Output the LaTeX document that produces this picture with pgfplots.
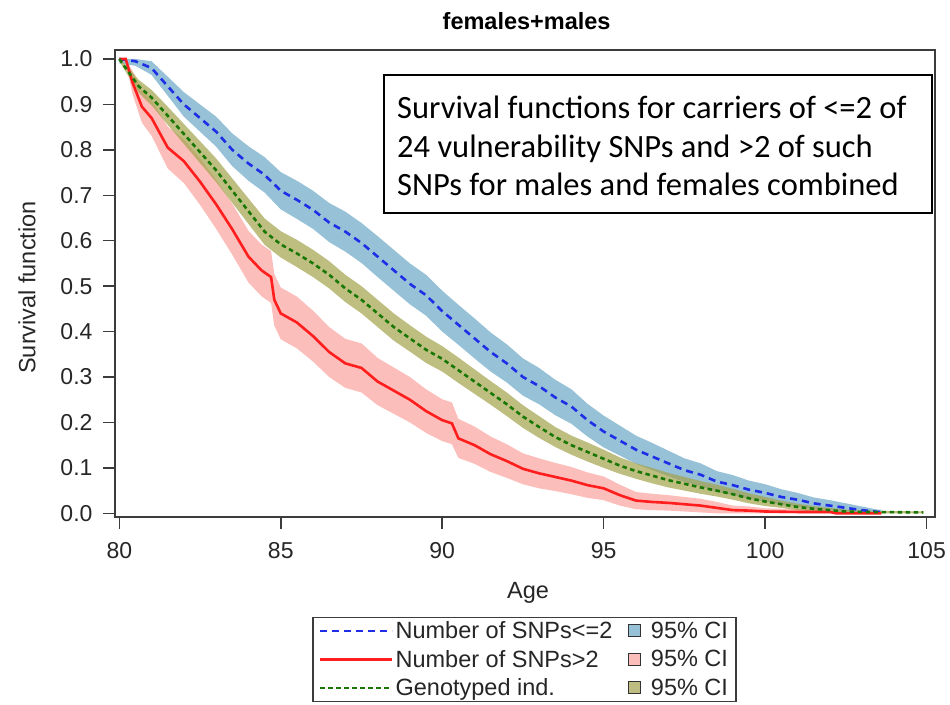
\documentclass[border=0pt]{standalone}
\usepackage{fontspec}
\setmainfont{Liberation Sans}
\newfontfamily\calibri{Carlito}
\usepackage{pgfplots}
\usepgfplotslibrary{fillbetween}
\pgfplotsset{compat=1.18}
\usepackage{pgfplotstable}

\definecolor{lblue}{RGB}{30,45,230}
\definecolor{lred}{RGB}{255,30,30}
\definecolor{lgreen}{RGB}{25,120,5}
\definecolor{bblue}{RGB}{106,166,196}
\definecolor{bred}{RGB}{251,162,157}
\definecolor{bgreen}{RGB}{162,162,76}
\definecolor{sqblue}{RGB}{151,193,214}
\definecolor{sqred}{RGB}{252,190,186}
\definecolor{sqgreen}{RGB}{190,190,130}
\definecolor{axgray}{RGB}{60,60,60}

\pgfplotsset{
  linelegend/.style={legend image code/.code={\draw[##1] (0pt,0pt) -- (72pt,0pt);}},
  sqlegend/.style={legend image code/.code={\draw[fill=#1, draw=black!80, line width=1pt] (0pt,-6pt) rectangle (12pt,6pt);\path[draw=none] (0pt,0pt) -- (20pt,0pt);}},
}

% x  s  lo  hi
\pgfplotstableread{
x s lo hi
80.0 1.000 0.990 1.000
80.5 0.995 0.985 1.000
81.0 0.980 0.965 0.995
81.5 0.940 0.919 0.961
82.0 0.900 0.873 0.927
82.5 0.870 0.840 0.900
83.0 0.840 0.807 0.873
83.5 0.800 0.764 0.836
84.0 0.770 0.732 0.808
84.5 0.745 0.706 0.784
85.0 0.710 0.669 0.751
85.5 0.690 0.648 0.732
86.0 0.668 0.626 0.710
86.5 0.640 0.597 0.683
87.0 0.620 0.576 0.664
87.5 0.595 0.551 0.639
88.0 0.565 0.520 0.610
88.5 0.535 0.490 0.580
89.0 0.505 0.460 0.550
89.5 0.480 0.435 0.525
90.0 0.445 0.400 0.490
90.5 0.415 0.371 0.459
91.0 0.385 0.341 0.429
91.5 0.355 0.312 0.398
92.0 0.330 0.288 0.372
92.5 0.300 0.259 0.341
93.0 0.280 0.240 0.320
93.5 0.255 0.216 0.294
94.0 0.235 0.197 0.273
94.5 0.205 0.169 0.241
95.0 0.180 0.145 0.215
95.5 0.160 0.127 0.193
96.0 0.140 0.109 0.171
96.5 0.125 0.095 0.155
97.0 0.110 0.082 0.138
97.5 0.095 0.069 0.121
98.0 0.085 0.060 0.110
98.5 0.070 0.047 0.093
99.0 0.062 0.040 0.084
99.5 0.052 0.032 0.072
100.0 0.045 0.026 0.064
100.5 0.036 0.019 0.053
101.0 0.030 0.015 0.045
101.5 0.022 0.009 0.035
102.0 0.017 0.005 0.029
102.5 0.012 0.002 0.022
103.0 0.007 0.000 0.015
103.5 0.003 0.000 0.008
103.6 0.003 0.000 0.008
}\lowtab

\pgfplotstableread{
x s lo hi
80.0 1.000 0.995 1.000
80.2 1.000 0.995 1.000
80.4 0.950 0.925 0.975
80.7 0.895 0.860 0.930
81.0 0.870 0.831 0.909
81.5 0.805 0.759 0.851
82.0 0.775 0.727 0.823
82.5 0.730 0.679 0.781
83.0 0.680 0.626 0.734
83.5 0.625 0.569 0.681
84.0 0.565 0.508 0.622
84.4 0.535 0.478 0.592
84.7 0.520 0.463 0.577
84.8 0.470 0.413 0.527
85.0 0.440 0.383 0.497
85.5 0.420 0.363 0.477
86.0 0.390 0.334 0.446
86.5 0.355 0.300 0.410
87.0 0.330 0.276 0.384
87.5 0.320 0.266 0.374
88.0 0.290 0.238 0.342
88.5 0.270 0.219 0.321
89.0 0.250 0.200 0.300
89.5 0.225 0.177 0.273
90.0 0.205 0.159 0.251
90.3 0.198 0.152 0.244
90.5 0.165 0.122 0.208
91.0 0.150 0.109 0.191
91.5 0.130 0.091 0.169
92.0 0.115 0.078 0.152
92.5 0.098 0.064 0.132
93.0 0.088 0.055 0.121
93.5 0.080 0.049 0.111
94.0 0.072 0.042 0.102
94.5 0.062 0.034 0.090
95.0 0.055 0.029 0.081
95.5 0.040 0.017 0.063
96.0 0.028 0.009 0.047
96.5 0.025 0.007 0.043
97.0 0.023 0.006 0.040
97.5 0.020 0.004 0.036
98.0 0.017 0.002 0.032
98.5 0.012 0.000 0.025
99.0 0.007 0.000 0.017
99.5 0.006 0.000 0.015
100.0 0.004 0.000 0.011
101.0 0.003 0.000 0.009
102.0 0.003 0.000 0.009
102.2 0.000 0.000 0.000
103.6 0.000 0.000 0.000
}\hightab

\pgfplotstableread{
x s lo hi
80.0 1.000 0.995 1.000
80.3 0.970 0.960 0.980
80.6 0.940 0.926 0.954
81.0 0.915 0.898 0.932
81.5 0.875 0.855 0.895
82.0 0.835 0.813 0.857
82.5 0.795 0.771 0.819
83.0 0.755 0.729 0.781
83.5 0.710 0.683 0.737
84.0 0.665 0.637 0.693
84.5 0.620 0.591 0.649
85.0 0.592 0.563 0.621
85.5 0.572 0.542 0.602
86.0 0.550 0.520 0.580
86.5 0.525 0.495 0.555
87.0 0.495 0.465 0.525
87.5 0.470 0.440 0.500
88.0 0.440 0.410 0.470
88.5 0.410 0.380 0.440
89.0 0.385 0.356 0.414
89.5 0.360 0.331 0.389
90.0 0.340 0.312 0.368
90.5 0.315 0.287 0.343
91.0 0.290 0.263 0.317
91.5 0.265 0.239 0.291
92.0 0.240 0.214 0.266
92.5 0.213 0.188 0.238
93.0 0.190 0.166 0.214
93.5 0.168 0.146 0.190
94.0 0.150 0.129 0.171
94.5 0.135 0.114 0.156
95.0 0.120 0.100 0.140
95.5 0.105 0.087 0.123
96.0 0.093 0.076 0.110
96.5 0.083 0.066 0.100
97.0 0.073 0.057 0.089
97.5 0.065 0.050 0.080
98.0 0.057 0.043 0.071
98.5 0.050 0.037 0.063
99.0 0.042 0.030 0.054
99.5 0.033 0.022 0.044
100.0 0.026 0.016 0.036
100.5 0.020 0.012 0.028
101.0 0.014 0.007 0.021
101.5 0.010 0.004 0.016
102.0 0.007 0.002 0.012
102.5 0.004 0.000 0.008
103.0 0.003 0.000 0.006
104.9 0.002 0.000 0.004
}\alltab

\begin{document}
\begin{tikzpicture}
\begin{axis}[
  scale only axis,
  width=820pt, height=467pt,
  xmin=79.867, xmax=105.26,
  ymin=-0.0081, ymax=1.0198,
  xtick={80,85,90,95,100,105},
  ytick={0,0.1,0.2,0.3,0.4,0.5,0.6,0.7,0.8,0.9,1.0},
  yticklabel style={/pgf/number format/fixed,/pgf/number format/precision=1,/pgf/number format/fixed zerofill, xshift=-7pt},
  xticklabel style={yshift=-10pt},
  /pgf/number format/assume math mode=true,
  tick label style={font=\fontsize{23}{27}\selectfont, text=black!85},
  tick align=outside, tick pos=left,
  major tick length=12pt,
  major tick style={draw=axgray, line width=1.5pt},
  axis line style={draw=axgray, line width=1.5pt},
  xlabel={Age}, ylabel={Survival function},
  label style={font=\fontsize{23.5}{28}\selectfont, text=black!85},
  xlabel style={at={(axis description cs:0.5037,-0.1627)}, anchor=center},
  ylabel style={at={(axis description cs:-0.1073,0.4914)}, anchor=center},
  title={females+males},
  title style={font=\fontsize{23.5}{28}\selectfont\bfseries, at={(axis description cs:0.502,1.062)}, anchor=center, yshift=-6pt},
  legend columns=2,
  legend cell align=left,
  legend style={at={(axis description cs:0.4994,-0.2141)}, anchor=north,
    draw=axgray, line width=1.2pt, inner xsep=6pt,
    row sep=6pt,
    font=\fontsize{23.5}{27}\selectfont, text=black!85,
    /tikz/every even column/.append style={column sep=14pt}},
]
% CI bands
\addplot[name path=bh, draw=none, forget plot] table[x=x,y=hi]{\lowtab};
\addplot[name path=bl, draw=none, forget plot] table[x=x,y=lo]{\lowtab};
\addplot[fill=bblue, fill opacity=0.7, draw=none, forget plot] fill between[of=bh and bl];
\addplot[name path=rh, draw=none, forget plot] table[x=x,y=hi]{\hightab};
\addplot[name path=rl, draw=none, forget plot] table[x=x,y=lo]{\hightab};
\addplot[fill=bred, fill opacity=0.7, draw=none, forget plot] fill between[of=rh and rl];
\addplot[name path=gh, draw=none, forget plot] table[x=x,y=hi]{\alltab};
\addplot[name path=gl, draw=none, forget plot] table[x=x,y=lo]{\alltab};
\addplot[fill=bgreen, fill opacity=0.7, draw=none, forget plot] fill between[of=gh and gl];
% survival curves
\addplot[lblue, line width=2.6pt, dash pattern=on 7pt off 5pt, forget plot] table[x=x,y=s]{\lowtab};
\addplot[lred, line width=2.6pt, forget plot] table[x=x,y=s]{\hightab};
\addplot[lgreen, line width=2.6pt, dash pattern=on 4.5pt off 3.5pt, forget plot] table[x=x,y=s]{\alltab};
% legend
\addlegendimage{lblue, line width=2.6pt, dash pattern=on 7pt off 5pt, linelegend}
\addlegendentry{Number of SNPs<=2}
\addlegendimage{sqlegend=sqblue}
\addlegendentry{95\% CI}
\addlegendimage{lred, line width=2.6pt, linelegend}
\addlegendentry{Number of SNPs>2}
\addlegendimage{sqlegend=sqred}
\addlegendentry{95\% CI}
\addlegendimage{lgreen, line width=2.6pt, dash pattern=on 4.5pt off 3.5pt, linelegend}
\addlegendentry{Genotyped ind.}
\addlegendimage{sqlegend=sqgreen}
\addlegendentry{95\% CI}
\end{axis}
% annotation box
\draw[fill=white, draw=black, line width=1.6pt] (269pt,304pt) rectangle (817pt,442pt);
\begin{scope}[every node/.style={anchor=base west, inner sep=0pt, font=\calibri\fontsize{32.5}{38}\selectfont}]
\node at (282pt,398pt) {Survival functions for carriers of <=2 of};
\node at (282pt,359.5pt) {24 vulnerability SNPs and >2 of such};
\node at (282pt,321pt) {SNPs for males and females combined};
\end{scope}
\pgfresetboundingbox
\path (-115pt,-187pt) rectangle (835pt,517pt);
\end{tikzpicture}
\end{document}
